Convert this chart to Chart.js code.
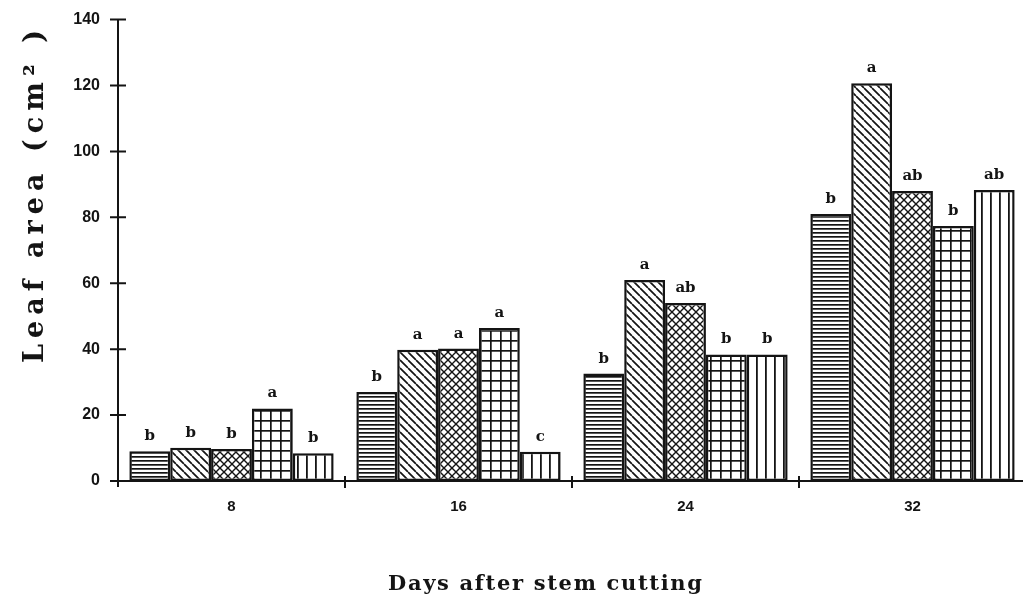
<!DOCTYPE html>
<html>
<head>
<meta charset="utf-8">
<script src="https://cdn.jsdelivr.net/npm/chart.js@4"></script>
<style>
  html, body { margin: 0; padding: 0; background: #fff; overflow: hidden; }
</style>
</head>
<body>
<canvas id="chart" width="1030" height="599"></canvas>
<script>
// data
const days = ['8', '16', '24', '32'];
const treatA = [9, 27, 32.6, 81];
const treatB = [10.1, 39.8, 61, 120.7];
const treatC = [9.7, 40.2, 54, 88];
const treatD = [22, 46.4, 38.4, 77.4];
const treatE = [8.4, 8.9, 38.4, 88.3];
const lettersA = ['b', 'b', 'b', 'b'];
const lettersB = ['b', 'a', 'a', 'a'];
const lettersC = ['b', 'a', 'ab', 'ab'];
const lettersD = ['a', 'a', 'b', 'b'];
const lettersE = ['b', 'c', 'b', 'ab'];
const yTicks = [0, 20, 40, 60, 80, 100, 120, 140];

const INK = '#141414';
const canvas = document.getElementById('chart');
const ctx = canvas.getContext('2d');

function makePattern(size, draw) {
  const c = document.createElement('canvas');
  c.width = size;
  c.height = size;
  const g = c.getContext('2d');
  g.fillStyle = '#fff';
  g.fillRect(0, 0, size, size);
  g.fillStyle = INK;
  g.strokeStyle = INK;
  g.lineWidth = 1.7;
  draw(g, size);
  return ctx.createPattern(c, 'repeat');
}

function diag(g, s, dir) {
  g.beginPath();
  for (let k = -s; k <= s; k += s) {
    if (dir > 0) { g.moveTo(k, 0); g.lineTo(k + s, s); }
    else { g.moveTo(k + s, 0); g.lineTo(k, s); }
  }
  g.stroke();
}

const patHoriz = makePattern(4, (g, s) => g.fillRect(0, 0, s, 1.7));
const patDiag = makePattern(8, (g, s) => diag(g, s, 1));
const patCross = makePattern(8, (g, s) => { g.lineWidth = 1.4; diag(g, s, 1); diag(g, s, -1); });
const patGrid = makePattern(10, (g, s) => { g.fillRect(0, 0, s, 1.7); g.fillRect(0, 0, 1.7, s); });
const patVert = makePattern(9, (g, s) => g.fillRect(0, 0, 1.8, s));

const series = [
  { data: treatA, letters: lettersA, fill: patHoriz },
  { data: treatB, letters: lettersB, fill: patDiag },
  { data: treatC, letters: lettersC, fill: patCross },
  { data: treatD, letters: lettersD, fill: patGrid },
  { data: treatE, letters: lettersE, fill: patVert }
];

// draw text stretched to a given length with letter spacing
function spacedText(c, text, x, y, length) {
  c.letterSpacing = '0px';
  const w = c.measureText(text).width;
  c.letterSpacing = ((length - w) / (text.length - 1)) + 'px';
  c.fillText(text, x, y);
  c.letterSpacing = '0px';
}

const marks = {
  id: 'marks',
  afterDraw(chart) {
    const { ctx, chartArea: a, scales: { x, y } } = chart;
    ctx.save();
    ctx.strokeStyle = INK;
    ctx.lineWidth = 2;
    ctx.beginPath();
    // y ticks crossing the axis
    yTicks.forEach(v => {
      const py = y.getPixelForValue(v);
      ctx.moveTo(a.left - 8, py);
      ctx.lineTo(a.left + 8, py);
    });
    ctx.moveTo(a.left, a.bottom);
    ctx.lineTo(a.left, a.bottom + 6);
    // x ticks between day groups
    for (let i = 1; i < days.length; i++) {
      const px = (x.getPixelForValue(i - 1) + x.getPixelForValue(i)) / 2;
      ctx.moveTo(px, a.bottom - 5);
      ctx.lineTo(px, a.bottom + 7);
    }
    ctx.stroke();

    // significance letters
    ctx.fillStyle = INK;
    ctx.font = 'bold 15px "DejaVu Serif"';
    ctx.textAlign = 'center';
    ctx.textBaseline = 'alphabetic';
    series.forEach((s, di) => {
      chart.getDatasetMeta(di).data.forEach((bar, i) => {
        ctx.fillText(s.letters[i], bar.x, bar.y - 11);
      });
    });

    // axis titles
    ctx.textAlign = 'left';
    ctx.font = 'bold 21px "DejaVu Serif"';
    spacedText(ctx, 'Days after stem cutting', 388, 590, 314);

    ctx.translate(a.left - 75, 363);
    ctx.rotate(-Math.PI / 2);
    ctx.font = 'bold 27px "DejaVu Serif"';
    spacedText(ctx, 'Leaf area (cm\u00b2 )', 0, 0, 333);
    ctx.restore();
  }
};

new Chart(ctx, {
  type: 'bar',
  data: {
    labels: days,
    datasets: series.map(s => ({
      data: s.data,
      backgroundColor: s.fill,
      borderColor: INK,
      borderWidth: 2.5,
      borderSkipped: false
    }))
  },
  options: {
    responsive: false,
    animation: false,
    layout: { padding: { top: 12, right: 4, left: 0, bottom: 0 } },
    datasets: { bar: { categoryPercentage: 0.9, barPercentage: 1 } },
    plugins: { legend: { display: false }, tooltip: { enabled: false } },
    scales: {
      x: {
        grid: { display: false },
        border: { color: INK, width: 2 },
        ticks: { color: INK, font: { family: 'Liberation Sans', weight: 'bold', size: 15 }, padding: 9 },
        afterFit: s => { s.height = 118; }
      },
      y: {
        min: 0,
        max: 140,
        afterBuildTicks: s => { s.ticks = yTicks.map(v => ({ value: v })); },
        grid: { display: false },
        border: { color: INK, width: 2 },
        ticks: { color: INK, font: { family: 'Liberation Sans', weight: 'bold', size: 16 }, padding: 10 },
        afterFit: s => { s.width = 118; }
      }
    }
  },
  plugins: [marks]
});
</script>
</body>
</html>
